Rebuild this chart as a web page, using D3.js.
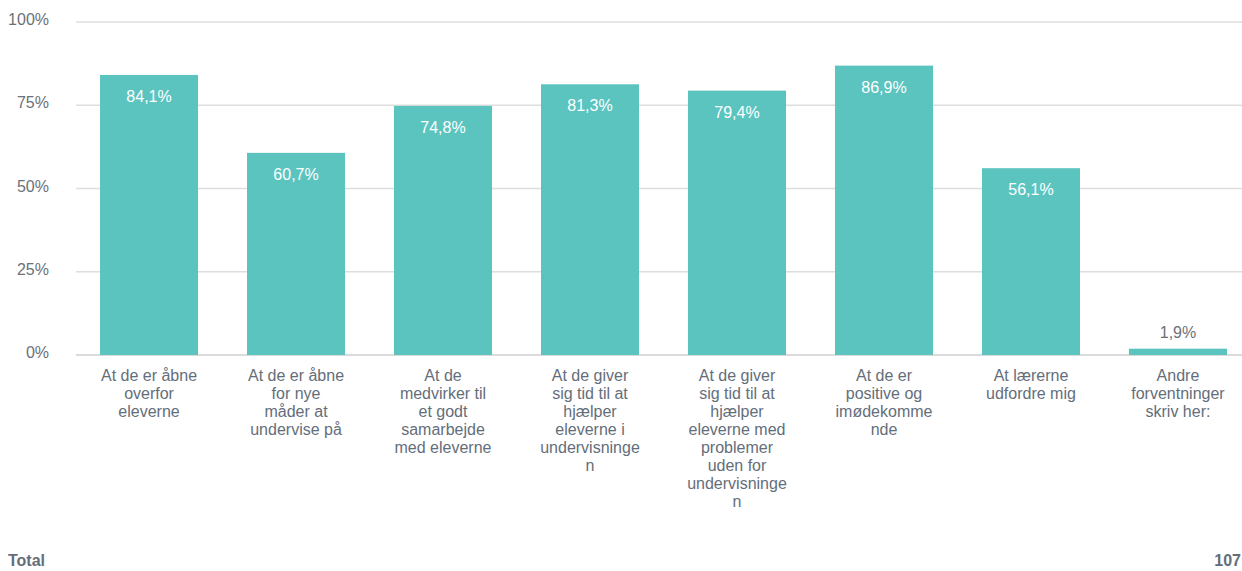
<!DOCTYPE html>
<html>
<head>
<meta charset="utf-8">
<script src="https://cdn.jsdelivr.net/npm/d3@7"></script>
<style>
  body { margin: 0; background: #fff; }
  text { font-family: "Liberation Sans", Arial, sans-serif; }
</style>
</head>
<body>
<script>
var categories = [
  "At de er åbne\noverfor\neleverne",
  "At de er åbne\nfor nye\nmåder at\nundervise på",
  "At de\nmedvirker til\net godt\nsamarbejde\nmed eleverne",
  "At de giver\nsig tid til at\nhjælper\neleverne i\nundervisninge\nn",
  "At de giver\nsig tid til at\nhjælper\neleverne med\nproblemer\nuden for\nundervisninge\nn",
  "At de er\npositive og\nimødekomme\nnde",
  "At lærerne\nudfordre mig",
  "Andre\nforventninger\nskriv her:"
];
var values = [84.1, 60.7, 74.8, 81.3, 79.4, 86.9, 56.1, 1.9];
var yTicks = [0, 25, 50, 75, 100];
var total = 107;

var width = 1242, height = 571;
var svg = d3.select("body").append("svg")
    .attr("width", width)
    .attr("height", height);

var x = d3.scaleBand()
    .domain(d3.range(categories.length))
    .range([75.5, 1251.5])
    .paddingInner(0.333)
    .paddingOuter(0.1667);

var y = d3.scaleLinear()
    .domain([0, 100])
    .range([355, 22]);

// gridlines
svg.selectAll("line.grid")
    .data(yTicks)
    .enter().append("line")
    .attr("class", "grid")
    .attr("x1", 76).attr("x2", width)
    .attr("y1", function(d) { return y(d); })
    .attr("y2", function(d) { return y(d); })
    .attr("stroke", function(d) { return d === 0 ? "#cfcfcf" : "#dedede"; })
    .attr("stroke-width", 1.5);

svg.selectAll("text.tick")
    .data(yTicks)
    .enter().append("text")
    .attr("class", "tick")
    .attr("x", 49)
    .attr("y", function(d) { return y(d) + 3; })
    .attr("text-anchor", "end")
    .attr("font-size", 16)
    .attr("fill", "#6b7178")
    .text(function(d) { return d + "%"; });

// bars
svg.selectAll("rect.bar")
    .data(values)
    .enter().append("rect")
    .attr("class", "bar")
    .attr("x", function(d, i) { return x(i); })
    .attr("width", x.bandwidth())
    .attr("y", function(d) { return y(d); })
    .attr("height", function(d) { return y(0) - y(d); })
    .attr("fill", "#5bc4bf");

svg.selectAll("text.val")
    .data(values)
    .enter().append("text")
    .attr("class", "val")
    .attr("x", function(d, i) { return x(i) + x.bandwidth() / 2; })
    .attr("y", function(d) { return d > 10 ? y(d) + 27 : y(d) - 11; })
    .attr("text-anchor", "middle")
    .attr("font-size", 16)
    .attr("fill", function(d) { return d > 10 ? "#ffffff" : "#6b7178"; })
    .text(function(d) { return d3.format(".1f")(d).replace(".", ",") + "%"; });

// category labels
var cat = svg.selectAll("text.cat")
    .data(categories)
    .enter().append("text")
    .attr("class", "cat")
    .attr("text-anchor", "middle")
    .attr("font-size", 16)
    .attr("fill", "#646e7a");

cat.selectAll("tspan")
    .data(function(d, i) { return d.split("\n").map(function(s) { return { s: s, i: i }; }); })
    .enter().append("tspan")
    .attr("x", function(d) { return x(d.i) + x.bandwidth() / 2; })
    .attr("y", function(d, j) { return 381 + j * 18; })
    .text(function(d) { return d.s; });

// total row
svg.append("text")
    .attr("x", 8).attr("y", 566)
    .attr("font-size", 16).attr("font-weight", "bold")
    .attr("fill", "#646e7a")
    .text("Total");

svg.append("text")
    .attr("x", 1241).attr("y", 566)
    .attr("text-anchor", "end")
    .attr("font-size", 16).attr("font-weight", "bold")
    .attr("fill", "#646e7a")
    .text(total);
</script>
</body>
</html>
